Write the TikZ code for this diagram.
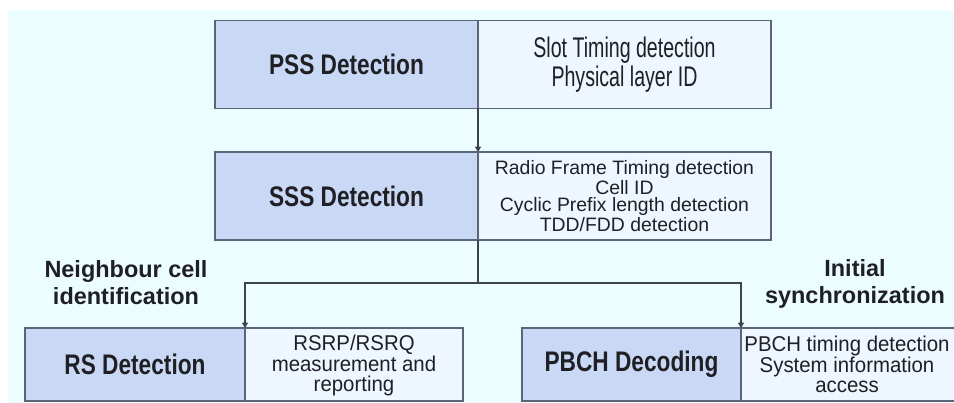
\documentclass[tikz,border=0pt]{standalone}
\usepackage{fontspec}
\setmainfont{Liberation Sans}
\usetikzlibrary{arrows.meta}

\definecolor{bgcyan}{RGB}{235,253,255}
\definecolor{boxblue}{RGB}{201,217,245}
\definecolor{boxpale}{RGB}{238,246,255}
\definecolor{boxedge}{RGB}{92,100,120}
\definecolor{flowline}{RGB}{62,66,74}
\definecolor{inkdark}{RGB}{32,32,36}

\begin{document}
\begin{tikzpicture}[x=0.75pt,y=0.75pt,yscale=-1,xscale=1,
  blockL/.style={draw=boxedge, fill=boxblue, line width=1.1pt, inner sep=0pt, outer sep=0pt},
  blockR/.style={draw=boxedge, fill=boxpale, line width=1.1pt, inner sep=0pt, outer sep=0pt},
  titletext/.style={font=\bfseries\fontsize{17}{19}\selectfont, text=inkdark, inner sep=0pt},
  labeltext/.style={font=\bfseries\fontsize{17.6}{20.2}\selectfont, text=inkdark, align=center, inner sep=0pt},
  infotext/.style={align=center, text=inkdark, inner sep=0pt},
  flow/.style={draw=flowline, line width=1pt, -{Triangle[width=4.5pt,length=4pt]}}]
\useasboundingbox (0,0) rectangle (954,403);
\clip (0,0) rectangle (954,403);
\fill[bgcyan] (8,10) rectangle (954,403);

% PSS Detection
\node [blockL, minimum width=197.25pt, minimum height=66pt] (pssL) at (346.5,64.5) {};
\node [blockR, minimum width=219.75pt, minimum height=66pt] (pssR) at (624.5,64.5) {};
% SSS Detection
\node [blockL, minimum width=197.25pt, minimum height=66pt] (sssL) at (346.5,196) {};
\node [blockR, minimum width=219.75pt, minimum height=66pt] (sssR) at (624.5,196) {};
% RS Detection
\node [blockL, minimum width=165pt, minimum height=54.75pt] (rsL) at (135,364.5) {};
\node [blockR, minimum width=163.5pt, minimum height=54.75pt] (rsR) at (354,364.5) {};
% PBCH Decoding
\node [blockL, minimum width=164.25pt, minimum height=54.75pt] (pbL) at (631.5,364.5) {};
\node [blockR, minimum width=162pt, minimum height=54.75pt] (pbR) at (849,364.5) {};

% Text Node
\node [titletext, yscale=1.25] (pssT) at (pssL) {PSS Detection};
\node [infotext, font=\fontsize{14.7}{12.9}\selectfont, yscale=1.45] (pssI) at (pssR) {Slot Timing detection\\Physical layer ID};
% Text Node
\node [titletext, yscale=1.25] (sssT) at (sssL) {SSS Detection};
\node [infotext, font=\fontsize{14.55}{13.35}\selectfont] (sssI) at (sssR) {Radio Frame Timing detection\\Cell ID\\Cyclic Prefix length detection\\TDD/FDD detection};
% Text Node
\node [titletext, yscale=1.25] (rsT) at (rsL) {RS Detection};
\node [infotext, font=\fontsize{15.3}{14.6}\selectfont, yscale=1.05] (rsI) at (354,365.5) {RSRP/RSRQ\\measurement and\\reporting};
% Text Node
\node [titletext, yscale=1.25] (pbT) at (pbL) {PBCH Decoding};
\node [infotext, font=\fontsize{15.3}{14.6}\selectfont, yscale=1.05] (pbI) at (847,364.5) {PBCH timing detection\\System information\\access};
% Text Node
\node [labeltext] (nbrLbl) at (126,283) {Neighbour cell\\identification};
\node [labeltext] (initLbl) at (855,284) {Initial\\synchronization};

% connectors
\coordinate (split) at (478,283);
\draw [flow] (pssL.south east) -- (sssL.north east);
\draw [draw=flowline, line width=1pt] (sssL.south east) -- (split);
\draw [flow] (split) -| (rsL.north east);
\draw [flow] (split) -| (pbL.north east);

\end{tikzpicture}
\end{document}
